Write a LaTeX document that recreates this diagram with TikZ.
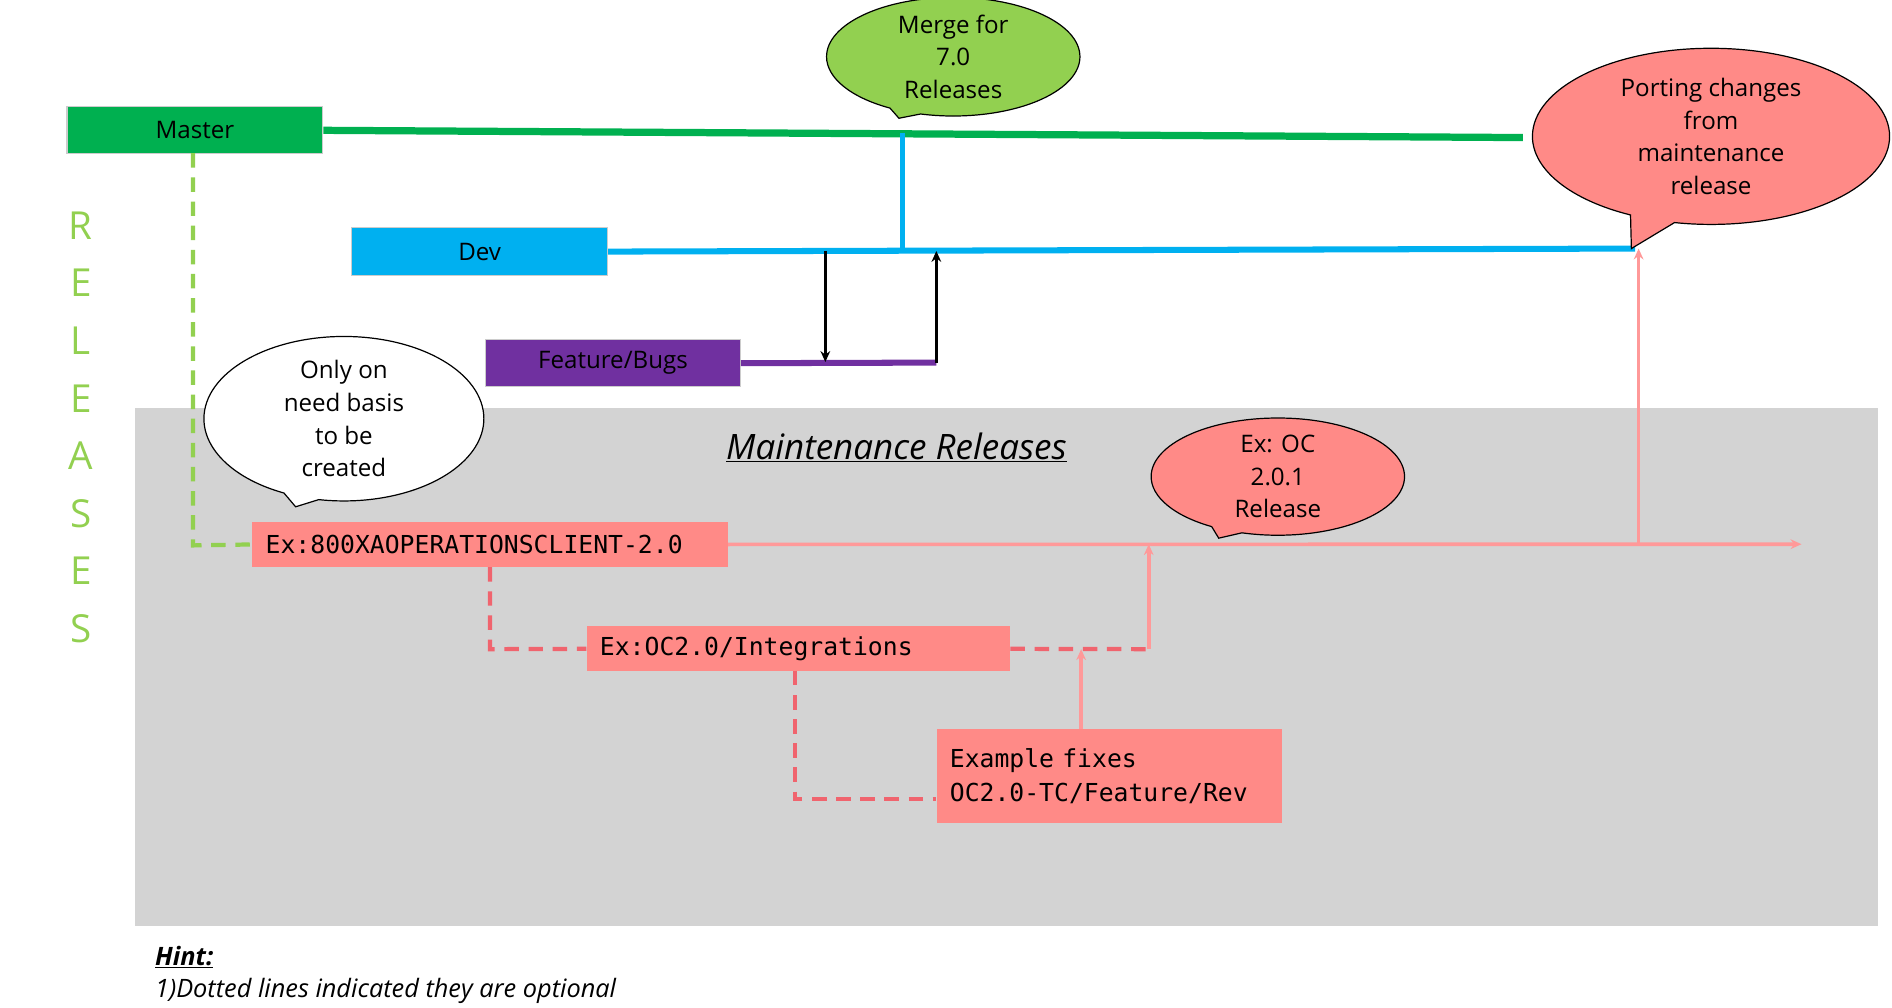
\documentclass[tikz,border=0pt]{standalone}
\usepackage{fontspec}
\setmainfont{Open Sans}
\newfontfamily\mono{DejaVu Sans Mono}
\usetikzlibrary{shapes.geometric,shapes.callouts,arrows.meta}
\definecolor{mgreen}{HTML}{00B050}
\definecolor{lgreen}{HTML}{92D050}
\definecolor{dcyan}{HTML}{00B0F0}
\definecolor{purp}{HTML}{7030A0}
\definecolor{salmon}{HTML}{FF8A87}
\definecolor{pinkln}{HTML}{FF9999}
\definecolor{redd}{HTML}{F0646E}
\definecolor{grey}{HTML}{D3D3D3}
\begin{document}
\begin{tikzpicture}[x=1pt,y=-1pt,
  box/.style={draw=white!80!black,line width=1pt,inner sep=0pt,anchor=north west,font=\fontsize{20}{24}\selectfont},
  mbox/.style={inner xsep=11pt,inner ysep=0pt,anchor=north west,fill=salmon,text width=#1,align=left,font=\mono\fontsize{20.5}{28}\selectfont},
  call/.style={ellipse callout,draw=black,line width=1pt,align=center,inner sep=0pt,font=\fontsize{20}{27}\selectfont},
  rel/.style={text=lgreen,font=\fontsize{32}{32}\selectfont},
  ar/.style={-{Stealth[length=9pt,width=8pt]}},
  dsh/.style={line width=3.5pt,dash pattern=on 12pt off 8pt}]
\useasboundingbox (0,0) rectangle (1568,835);
\fill[grey] (112,338) rectangle (1556,767);
% boxes
\node[box,fill=mgreen,minimum width=212pt,minimum height=39pt] (master) at (55,88) {Master};
\node[box,fill=dcyan,minimum width=212pt,minimum height=40pt] (dev) at (291,188) {Dev};
\node[box,fill=purp,minimum width=211pt,minimum height=39pt] (feat) at (402,281) {Feature/Bugs};
\node[mbox=372pt,minimum height=38pt] (ex800) at (209,432) {Ex:800XAOPERATIONSCLIENT-2.0};
\node[mbox=329pt,minimum height=37pt] (int) at (486,519) {Ex:OC2.0/Integrations};
\node[mbox=264pt,minimum height=78pt] (fix) at (776,604) {Example fixes\\OC2.0-TC/Feature/Rev};
% coordinates
\coordinate (mEnd) at (1262,114);
\coordinate (dEnd) at (1355,206);
\coordinate (mj) at (748,110);
\coordinate (dj) at (748,208);
\coordinate (fe) at (776,300.5);
\coordinate (a1) at (684,208);
\coordinate (a1b) at (684,300);
\coordinate (a2) at (776,208);
\coordinate (pEnd) at (1493,451);
\coordinate (pu) at (1358,451);
\coordinate (pt) at (1358,206);
\coordinate (q) at (952,451);
\coordinate (fw) at (776,662);
% lines
\draw[mgreen,line width=6pt] (master.east) -- (mEnd);
\draw[dcyan,line width=5pt] (dev.east) -- (dEnd);
\draw[dcyan,line width=3.5pt] (mj) -- (dj);
\draw[purp,line width=5pt] (feat.east) -- (fe);
\draw[line width=3pt,ar] (a1) -- (a1b);
\draw[line width=3pt,ar] (fe) -- (a2);
\draw[pinkln,line width=3pt,ar] (ex800.east) -- (pEnd);
\draw[pinkln,line width=3pt,ar] (pu) -- (pt);
\draw[lgreen,dsh] (160,127) -- (160,452) -- (ex800.west);
\draw[redd,dsh] (406,470) -- (406,538) -- (int.west);
\draw[redd,dsh] (int.east) -- (952,538);
\draw[pinkln,line width=3pt,ar] (952,538) -- (q);
\draw[redd,dsh] (659,556) -- (659,662) -- (fw);
\draw[pinkln,line width=3pt,ar] (896,604) -- (896,538);
% callouts
\node[call,fill=lgreen,minimum width=210pt,minimum height=80pt,callout absolute pointer={(745,98)}] (merge) at (790,47) {Merge for\\7.0\\Releases};
\node[call,fill=salmon,minimum width=296pt,minimum height=146pt,callout absolute pointer={(1352,206)}] (port) at (1418,113) {Porting changes\\from\\maintenance\\release};
\node[call,fill=white,minimum width=232pt,minimum height=136pt,callout absolute pointer={(245,420)}] (only) at (285,347) {Only on\\need basis\\to be\\created};
\node[call,fill=salmon,minimum width=210pt,minimum height=84pt,callout absolute pointer={(1010,446)}] (exoc) at (1059,395) {Ex: OC\\2.0.1\\Release};
% texts
\node[font=\fontsize{29}{32}\selectfont\itshape] (mr) at (743,371) {\underline{Maintenance Releases}};
\foreach \l [count=\i from 0] in {R,E,L,E,A,S,E,S}
  \node[rel] (r\i) at (67,187+47.7*\i) {\l};
\node[anchor=west,font=\fontsize{21}{24}\selectfont\bfseries\itshape] (hint) at (125,793) {\underline{Hint:}};
\node[anchor=west,font=\fontsize{21}{24}\selectfont\itshape] (h1) at (125,821) {1)Dotted lines indicated they are optional};
\end{tikzpicture}
\end{document}
